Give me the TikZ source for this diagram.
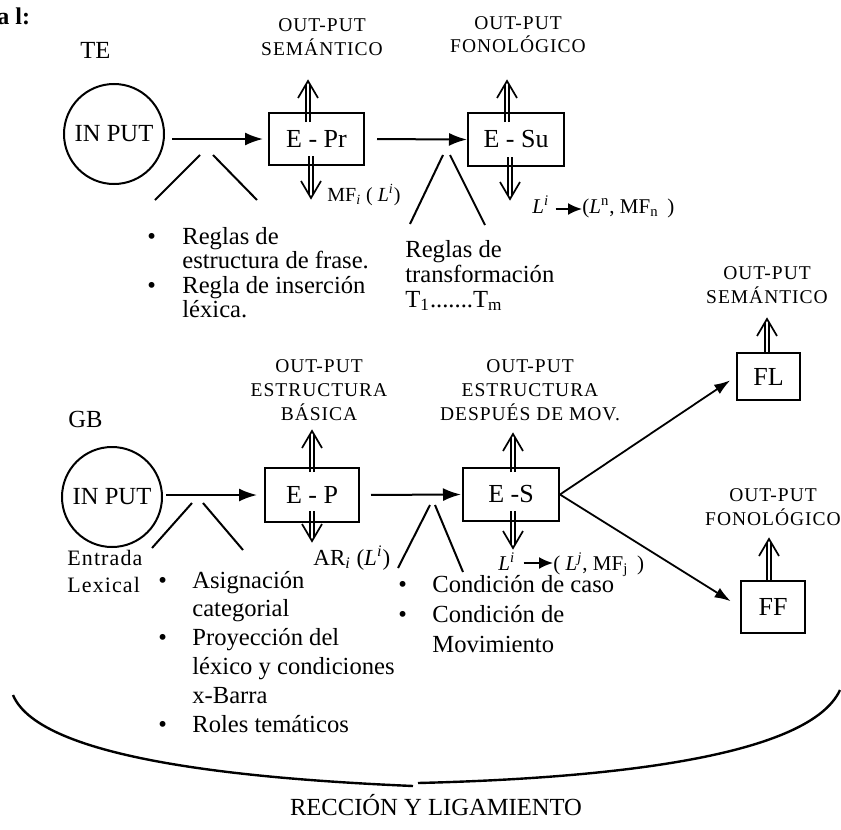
\documentclass[tikz,border=0pt]{standalone}
\usepackage{fontspec}
\setmainfont{Liberation Serif}
\newfontfamily\capsfont[LetterSpace=5]{Liberation Serif}
\usetikzlibrary{arrows.meta,calc}

% double-shafted arrows with an open head (up / down), given an anchor,
% an x offset, the y offset where the shaft starts and the y offset of the tip
\newcommand\dblup[4]{%
  \coordinate (dbS) at ($(#1)+(#2,#3)$);
  \coordinate (dbT) at ($(#1)+(#2,#4)$);
  \draw[dblshaft] ($(dbS)+(-1.8,0)$) -- ($(dbT)+(-1.8,4)$)
                  ($(dbS)+(1.8,0)$) -- ($(dbT)+(1.8,4)$);
  \draw[dblhead] ($(dbT)+(-10,17)$) -- (dbT) -- ($(dbT)+(10,17)$);}
\newcommand\dbldown[4]{%
  \coordinate (dbS) at ($(#1)+(#2,#3)$);
  \coordinate (dbT) at ($(#1)+(#2,#4)$);
  \draw[dblshaft] ($(dbS)+(-1.8,0)$) -- ($(dbT)+(-1.8,-4)$)
                  ($(dbS)+(1.8,0)$) -- ($(dbT)+(1.8,-4)$);
  \draw[dblhead] ($(dbT)+(-10,-17)$) -- (dbT) -- ($(dbT)+(10,-17)$);}

\tikzset{
  inputc/.style={circle, draw, line width=1pt, minimum size=50pt, inner sep=0pt,
    font=\fontsize{12.3}{14}\selectfont},
  stage/.style={draw, line width=1pt, inner sep=0pt, font=\fontsize{13}{15}\selectfont},
  % multi-line labels are placed by the baseline of their last line
  outlbl/.style={anchor=base, align=center, inner sep=0pt,
    font=\capsfont\fontsize{9.75}{12}\selectfont},
  body/.style={anchor=base west, inner sep=0pt, font=\fontsize{12.3}{12.3}\selectfont},
  formula/.style={anchor=base west, inner sep=0pt, font=\fontsize{10.5}{12}\selectfont},
  flow/.style={line width=1pt, -{Latex[length=9pt,width=6.5pt]}},
  branch/.style={line width=0.9pt, -{Latex[length=8pt,width=5.5pt]}},
  minitip/.style={line width=1pt, -{Latex[length=7pt,width=6pt]}},
  tree/.style={line width=1pt},
  dblshaft/.style={line width=0.75pt},
  dblhead/.style={line width=0.85pt},
  brace/.style={line width=1.2pt},
}

\begin{document}
\begin{tikzpicture}[x=0.5pt,y=-0.5pt]
\useasboundingbox (0,0) rectangle (841,830);

% heading fragment
\node[anchor=base west, inner sep=0pt, font=\bfseries\fontsize{12}{14}\selectfont] (head) at (-3,25) {a l:};

% ---------------- TE ----------------
\node[body] (te) at (80,58) {TE};
\node[inputc] (inTE) at (114,134) {IN PUT};
\node[stage, minimum width=47.5pt, minimum height=26pt] (ePr) at (316.5,139) {E - Pr};
\node[stage, minimum width=48pt, minimum height=26.5pt] (eSu) at (516,139.5) {E - Su};

\node[outlbl] (semTE) at (322,55) {OUT-PUT\\SEMÁNTICO};
\node[outlbl] (fonTE) at (518,53) {OUT-PUT\\FONOLÓGICO};

\draw[flow, shorten <=3.5pt, shorten >=2.5pt] (inTE.east |- ePr.west) -- (ePr.west);
\draw[flow, shorten <=6pt] (ePr.east) -- (eSu.west);

\dblup{ePr.north}{-8.5}{10}{-31}
\dbldown{ePr.south}{-5.5}{-10}{32}
\dblup{eSu.north}{-9}{10}{-31}
\dbldown{eSu.south}{-6}{-10}{32}

\node[formula, font=\fontsize{10}{12}\selectfont] (mfTE) at (327,201)
  {MF\textsubscript{\textit{i}} ( \textit{L}\textsuperscript{\textit{i}})};
\node[formula] (liTE) at (532,213) {\textit{L}\textsuperscript{\textit{i}}};
\node[formula] (lnTE) at (582,213) {(\textit{L}\textsuperscript{n}, MF\textsubscript{n}\, )};
\draw[minitip, shorten <=3pt] (liTE.east |- 0,209) -- (lnTE.west |- 0,209);

% phrase-structure branches
\coordinate (t1a) at (200,155); \coordinate (t1b) at (155,200);
\coordinate (t1c) at (213,155); \coordinate (t1d) at (257,200);
\draw[tree] (t1a) -- (t1b) (t1c) -- (t1d);
\coordinate (t2a) at (443,155); \coordinate (t2b) at (410,224);
\coordinate (t2c) at (450,155); \coordinate (t2d) at (485,225);
\draw[tree] (t2a) -- (t2b) (t2c) -- (t2d);

\node[body] (rulesTE) at (147,244)
  {\begin{tabular}[t]{@{}p{17.5pt}@{}l@{}}
    \textbullet & Reglas de\\
                & estructura de frase.\\
    \textbullet & Regla de inserción\\
                & léxica.
   \end{tabular}};
\node[body, align=left, font=\fontsize{12.3}{12.5}\selectfont] (transTE) at (405,307)
  {Reglas de\\transformación\\T\textsubscript{1}.......T\textsubscript{m}};

% ---------------- GB ----------------
\node[body] (gb) at (68,427) {GB};
\node[inputc] (inGB) at (112,497) {IN PUT};
\node[stage, minimum width=47pt, minimum height=27pt] (eP) at (312,495) {E - P};
\node[stage, minimum width=48pt, minimum height=26.5pt] (eS) at (511,494.5) {E -S};
\node[stage, minimum width=31.5pt, minimum height=23.5pt] (fl) at (768.5,376.5) {FL};
\node[stage, minimum width=32pt, minimum height=26pt] (ff) at (773,607) {FF};

\node[outlbl] (estP) at (319,420) {OUT-PUT\\ESTRUCTURA\\BÁSICA};
\node[outlbl] (estS) at (530,420) {OUT-PUT\\ESTRUCTURA\\DESPUÉS DE MOV.};
\node[outlbl] (semGB) at (767,303) {OUT-PUT\\SEMÁNTICO};
\node[outlbl] (fonGB) at (773,525) {OUT-PUT\\FONOLÓGICO};

\draw[flow, shorten <=1.5pt, shorten >=3.5pt] (inGB.east |- eP.west) -- (eP.west);
\draw[flow, shorten <=5.5pt, shorten >=0.5pt] (eP.east) -- (eS.west);
\draw[branch, shorten >=3.5pt] (eS.east) -- (fl.west);
\draw[branch, shorten >=5.5pt] (eS.east) -- (ff.west);

\dblup{eP.north}{0}{5}{-36}
\dbldown{eP.south}{0}{-12}{18}
\dblup{eS.north}{2}{5}{-33}
\dbldown{eS.south}{2}{-11}{26}
\dblup{fl.north}{-1.5}{0}{-33}
\dblup{ff.north}{-4}{0}{-41}

\node[formula, font=\fontsize{11.5}{13}\selectfont] (arGB) at (313,565)
  {AR\textsubscript{\textit{i}} (\textit{L}\textsuperscript{\textit{i}})};
\node[formula] (liGB) at (498,570) {\textit{L}\textsuperscript{\textit{i}}};
\node[formula] (ljGB) at (553,570) {( \textit{L}\textsuperscript{\textit{j}}, MF\textsubscript{j}\, )};
\draw[minitip, shorten <=4pt] (liGB.east |- 0,563) -- (ljGB.west |- 0,563);

\coordinate (g1a) at (192,503); \coordinate (g1b) at (152,548);
\coordinate (g1c) at (203,503); \coordinate (g1d) at (243,550);
\draw[tree] (g1a) -- (g1b) (g1c) -- (g1d);
\coordinate (g2a) at (430,505); \coordinate (g2b) at (398,568);
\coordinate (g2c) at (435,505); \coordinate (g2d) at (463,572);
\draw[tree] (g2a) -- (g2b) (g2c) -- (g2d);

\node[body, align=left, font=\capsfont\fontsize{11}{13.5}\selectfont] (lex) at (67,592)
  {Entrada\\Lexical};
\node[body, font=\fontsize{12.3}{14.4}\selectfont] (rulesGB) at (158,588)
  {\begin{tabular}[t]{@{}p{17pt}@{}l@{}}
    \textbullet & Asignación\\
                & categorial\\
    \textbullet & Proyección del\\
                & léxico y condiciones\\
                & x-Barra\\
    \textbullet & Roles temáticos
   \end{tabular}};
\node[body, font=\fontsize{12.3}{15}\selectfont] (condGB) at (398,592)
  {\begin{tabular}[t]{@{}p{17pt}@{}l@{}}
    \textbullet & Condición de caso\\
    \textbullet & Condición de\\
                & Movimiento
   \end{tabular}};

% ---------------- brace ----------------
\coordinate (brL) at (13,695);
\coordinate (brM1) at (413,786);
\coordinate (brM2) at (418,783);
\coordinate (brR) at (840,690);
\draw[brace] (brL) .. controls (40,760) and (250,779) .. (brM1);
\draw[brace] (brM2) .. controls (620,778) and (810,755) .. (brR);
\node[anchor=base, inner sep=0pt, font=\fontsize{12.3}{14}\selectfont] (ryl) at (436,815)
  {RECCIÓN Y LIGAMIENTO};
\end{tikzpicture}
\end{document}
